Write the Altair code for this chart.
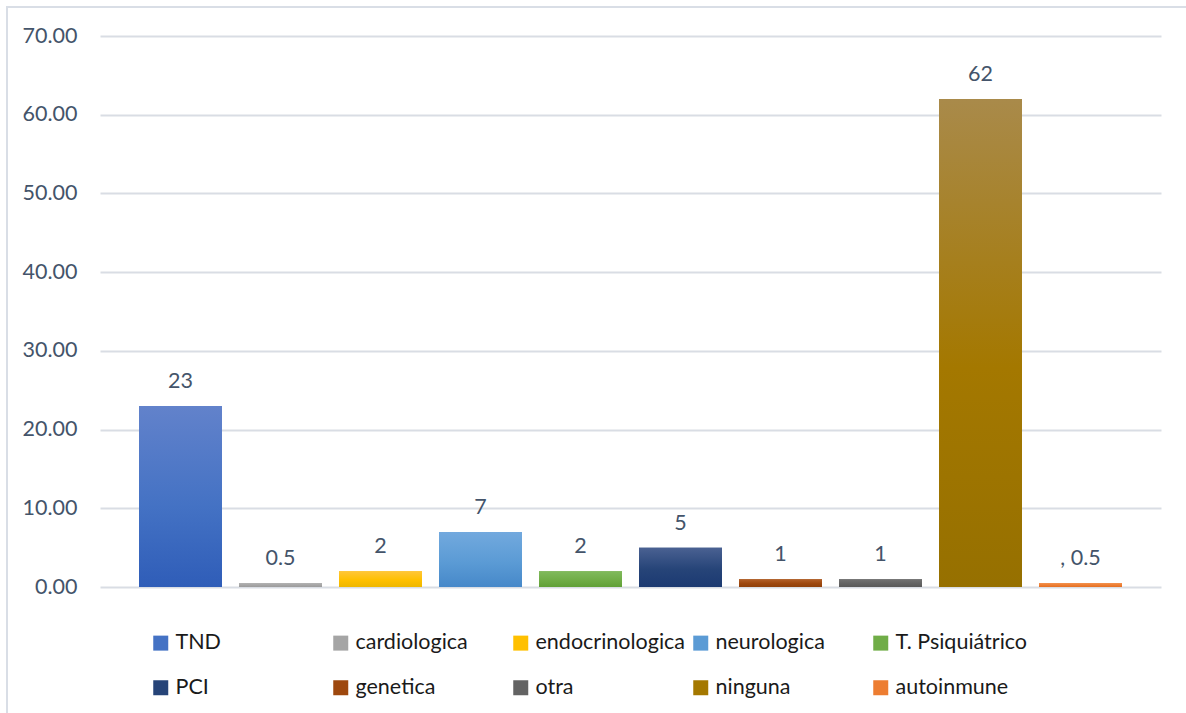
import altair as alt
import pandas as pd

# Categories, values and the label text shown above each bar
categorias = ["TND", "cardiologica", "endocrinologica", "neurologica", "T. Psiquiátrico",
              "PCI", "genetica", "otra", "ninguna", "autoinmune"]
valores = [23, 0.5, 2, 7, 2, 5, 1, 1, 62, 0.5]
etiquetas = ["23", "0.5", "2", "7", "2", "5", "1", "1", "62", ", 0.5"]

# Base colour of each category plus lighter top / darker bottom for the gradient fill
color_base = ["#4472C4", "#A5A5A5", "#FFC000", "#5B9BD5", "#70AD47",
              "#264478", "#9E480E", "#636363", "#A47800", "#ED7D31"]
color_arriba = ["#6282CB", "#B2B2B2", "#FFC63A", "#72A9DE", "#80BA5C",
                "#4A6192", "#B3612A", "#727272", "#A98A4A", "#F2914F"]
color_abajo = ["#2F5DB8", "#9A9A9A", "#EDB700", "#4688C9", "#60A037",
               "#1C3A72", "#8F400A", "#595959", "#967000", "#E36E22"]

df = pd.DataFrame({"categoria": categorias, "valor": valores, "etiqueta": etiquetas})

FONT = "Lato"
TXT = "#44546A"
W, H = 1061, 551

x_enc = alt.X("categoria:N", sort=categorias, axis=None,
              scale=alt.Scale(paddingInner=0.17, paddingOuter=0.39))
y_scale = alt.Scale(domain=[0, 70], nice=False)
y_enc = alt.Y("valor:Q", scale=y_scale,
              axis=alt.Axis(values=[0, 10, 20, 30, 40, 50, 60, 70], format=".2f",
                            title=None, domain=False, ticks=False,
                            labelFontSize=21.5, labelFont=FONT, labelColor=TXT,
                            labelPadding=23, gridColor="#D9DDE4", gridWidth=2))

base = alt.Chart(df)

# Solid bars carrying the colour scale (and the legend)
barras = base.mark_bar().encode(
    x=x_enc, y=y_enc,
    color=alt.Color("categoria:N",
                    scale=alt.Scale(domain=categorias, range=color_base),
                    legend=alt.Legend(title=None, orient="none", legendX=50, legendY=596,
                                      direction="horizontal", columns=5, gridAlign="all",
                                      columnPadding=4, rowPadding=22,
                                      symbolType="square", symbolSize=225,
                                      symbolStrokeWidth=0, symbolOpacity=1,
                                      labelFont=FONT, labelFontSize=21.5,
                                      labelColor="#1A1A1A", labelOffset=4,
                                      labelLimit=400)),
)

# Gradient fill drawn over each bar
capas = []
for cat, c_top, c_mid, c_bot in zip(categorias, color_arriba, color_base, color_abajo):
    grad = alt.LinearGradient(
        gradient="linear", x1=0, x2=0, y1=0, y2=1,
        stops=[alt.GradientStop(color=c_top, offset=0),
               alt.GradientStop(color=c_mid, offset=0.55),
               alt.GradientStop(color=c_bot, offset=1)])
    capas.append(
        base.transform_filter(alt.datum.categoria == cat)
        .mark_bar(color=grad)
        .encode(x=x_enc, y=alt.Y("valor:Q", scale=y_scale))
    )

textos = base.mark_text(dy=-18, baseline="alphabetic", align="center",
                        font=FONT, fontSize=21.5, color=TXT).encode(
    x=x_enc, y=alt.Y("valor:Q", scale=y_scale),
    text="etiqueta:N")

# Light frame around the whole chart
marco = alt.Chart(pd.DataFrame({"k": [0]})).mark_rect(
    fill=None, stroke="#D9DEE6", strokeWidth=2).encode(
    x=alt.value(-93), x2=alt.value(W + 40), y=alt.value(-29), y2=alt.value(H + 150))

chart = alt.layer(marco, barras, *capas, textos).properties(
    width=W, height=H,
    autosize=alt.AutoSizeParams(type="none"),
    padding={"left": 100, "top": 36, "right": 25, "bottom": 126},
    background="white",
).configure_view(stroke=None)

chart.save("out.html", embed_options={"renderer": "svg", "actions": False})
